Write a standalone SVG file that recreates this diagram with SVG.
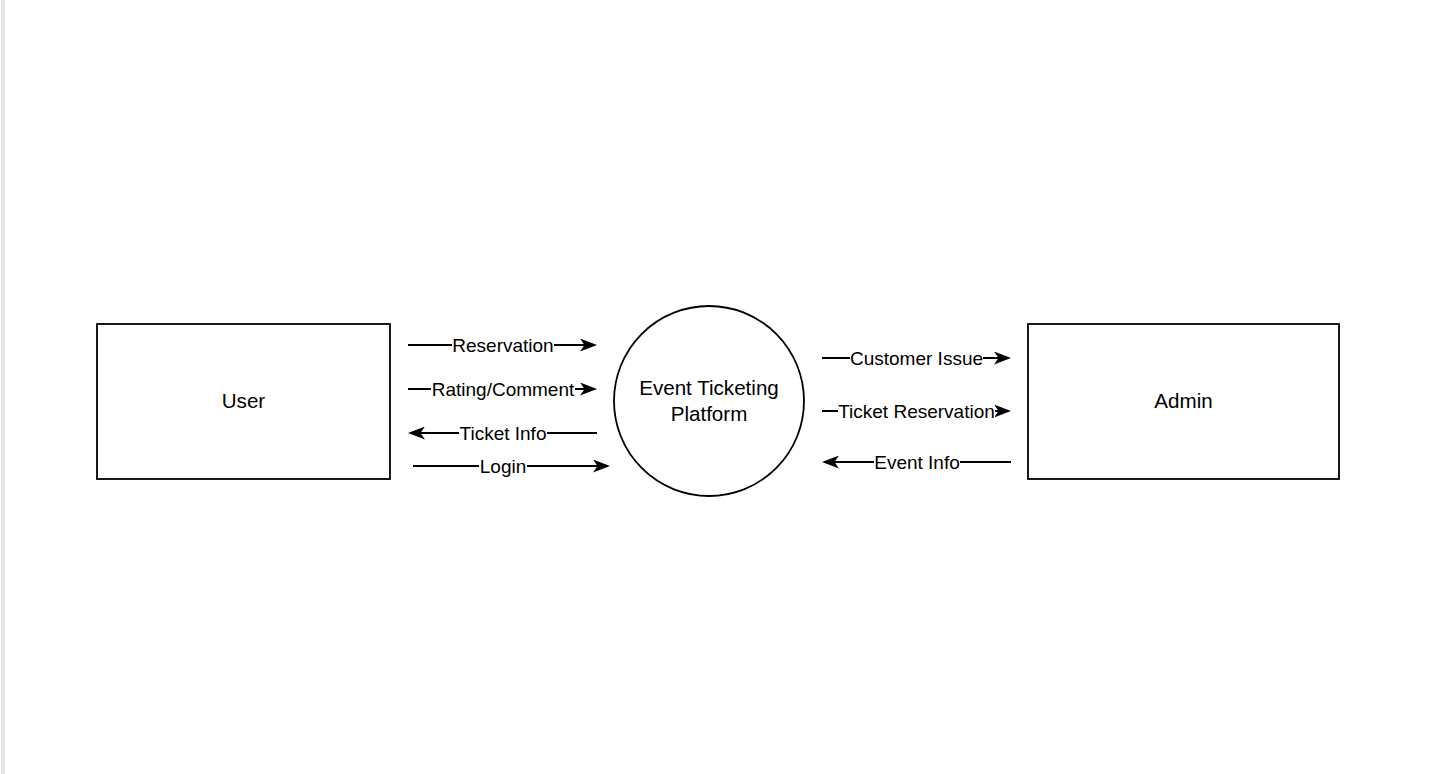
<svg xmlns="http://www.w3.org/2000/svg" width="1430" height="774" viewBox="0 0 1430 774">
<style>
.box{fill:#fff;stroke:#000;stroke-width:1.8}
.node{font-family:"Liberation Sans",Arial,sans-serif;font-size:20.6px;fill:#000;text-anchor:middle}
.lbl{font-family:"Liberation Sans",Arial,sans-serif;font-size:19px;fill:#000;text-anchor:middle}
.edge{stroke:#000;stroke-width:1.8;fill:none;marker-end:url(#arr)}
.bg{fill:#fff}
</style>
<defs>
<marker id="arr" viewBox="0 0 17 13" refX="14" refY="6.5" markerWidth="17" markerHeight="13" markerUnits="userSpaceOnUse" orient="auto">
<path d="M0,0 L17,6.5 L0,13 L4.5,6.5 Z" fill="#000"/>
</marker>
</defs>
<rect width="1430" height="774" fill="#fff"/>
<rect x="1" y="0" width="4" height="774" fill="#e6e6e6"/>
<g id="connectors">
<g id="e-reservation"><path class="edge" d="M408,345 H594"/><rect class="bg" x="452" y="335" width="102" height="20"/><text class="lbl" x="503" y="351.5">Reservation</text></g>
<g id="e-rating"><path class="edge" d="M408,389 H594"/><rect class="bg" x="431" y="379" width="144" height="20"/><text class="lbl" x="503" y="395.5">Rating/Comment</text></g>
<g id="e-ticketinfo"><path class="edge" d="M597,433 H411"/><rect class="bg" x="459" y="423" width="88" height="20"/><text class="lbl" x="503" y="439.5">Ticket Info</text></g>
<g id="e-login"><path class="edge" d="M413,466 H607"/><rect class="bg" x="479" y="456" width="48" height="20"/><text class="lbl" x="503" y="472.5">Login</text></g>
<g id="e-customer"><path class="edge" d="M822,358 H1008"/><rect class="bg" x="850" y="348" width="133" height="20"/><text class="lbl" x="916.5" y="364.5">Customer Issue</text></g>
<g id="e-ticketres"><path class="edge" d="M822,411 H1008"/><rect class="bg" x="838" y="401" width="157" height="20"/><text class="lbl" x="916.5" y="417.5">Ticket Reservation</text></g>
<g id="e-eventinfo"><path class="edge" d="M1011,462 H825"/><rect class="bg" x="874" y="452" width="86" height="20"/><text class="lbl" x="917" y="468.5">Event Info</text></g>
</g>
<g id="user"><rect class="box" x="97" y="324" width="293" height="155"/><text class="node" x="243.5" y="408">User</text></g>
<g id="platform"><circle class="box" cx="709" cy="401" r="95"/><text class="node" x="709" y="395">Event Ticketing</text><text class="node" x="709" y="420.5">Platform</text></g>
<g id="admin"><rect class="box" x="1028" y="324" width="311" height="155"/><text class="node" x="1183.5" y="408">Admin</text></g>
</svg>
